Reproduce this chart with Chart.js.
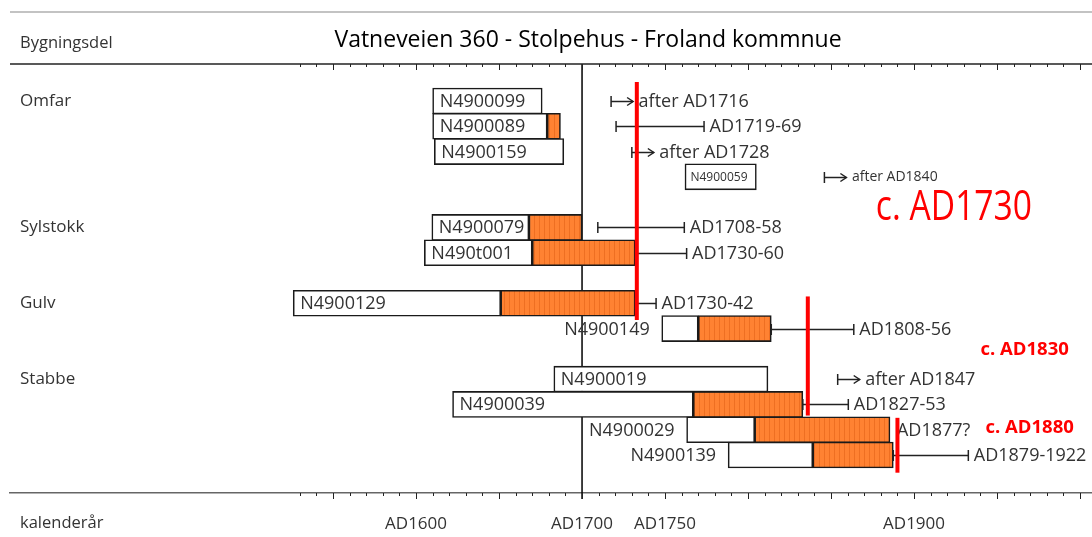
<!DOCTYPE html>
<html>
<head>
<meta charset="utf-8">
<title>Vatneveien 360 - Stolpehus - Froland kommnue</title>
<script src="https://cdn.jsdelivr.net/npm/chart.js@4.4.1/dist/chart.umd.min.js"></script>
<style>
  html, body { margin: 0; padding: 0; background: #fff; }
  #wrap { width: 1092px; height: 537px; }
</style>
</head>
<body>
<div id="wrap"><canvas id="dendroChart"></canvas></div>
<script>
// Building parts and the row they start on
const groups   = ['Omfar', 'Sylstokk', 'Gulv', 'Stabbe'];
const groupRow = [0, 5, 8, 11];

// Samples (years AD)
const samples   = ['N4900099', 'N4900089', 'N4900159', 'N4900059', 'N4900079', 'N490t001', 'N4900129', 'N4900149', 'N4900019', 'N4900039', 'N4900029', 'N4900139'];
const sampleRow = [0, 1, 2, 3, 5, 6, 8, 9, 11, 12, 13, 14];
const firstRing = [1610, 1610, 1611, 1762, 1609.5, 1605, 1526, 1748, 1683, 1622, 1763, 1788];
const sapStart  = [null, 1679, null, null, 1668, 1670, 1651, 1770, null, 1767, 1804, 1839];
const lastRing  = [1676, 1687, 1689, 1805, 1700, 1732, 1732, 1814, 1812, 1833, 1885.5, 1887.5];

// Felling estimate: range from-to, or "after" when there is no end
const fellFrom = [1717.5, 1720.5, 1730, 1846, 1709.5, 1732, 1732, 1814, 1854, 1833, null, 1887.5];
const fellTo   = [null, 1773.5, null, null, 1761.6, 1763, 1744.6, 1863.7, null, 1860.4, null, 1932.7];
const fellText = ['after AD1716', 'AD1719-69', 'after AD1728', 'after AD1840', 'AD1708-58', 'AD1730-60', 'AD1730-42', 'AD1808-56', 'after AD1847', 'AD1827-53', 'AD1877?', 'AD1879-1922'];

// Building phases
const phaseYear = [1733, 1836, 1890];
const phaseText = ['c. AD1730', 'c. AD1830', 'c. AD1880'];

const tickYears = [1600, 1700, 1750, 1900];

const FONT = "'Open Sans', sans-serif";
Chart.defaults.font.family = FONT;
Chart.defaults.color = '#333';

const canvas = document.getElementById('dendroChart');

// orange sapwood fill with thin vertical stripes
function makeHatch() {
    const c = document.createElement('canvas');
    c.width = 5; c.height = 10;
    const g = c.getContext('2d');
    g.fillStyle = '#FF8232';
    g.fillRect(0, 0, 5, 10);
    g.fillStyle = '#EE6F22';
    g.fillRect(4, 0, 1, 10);
    return canvas.getContext('2d').createPattern(c, 'repeat');
}

const heartData = samples.map((s, i) => ({ x: [firstRing[i], sapStart[i] ?? lastRing[i]], y: sampleRow[i] }));
const sapData = samples
    .map((s, i) => sapStart[i] == null ? null : { x: [sapStart[i], lastRing[i]], y: sampleRow[i] })
    .filter(Boolean);

const outsideName = new Set(['N4900149', 'N4900029', 'N4900139']);

function seg(ctx, x0, y0, x1, y1) {
    ctx.beginPath();
    ctx.moveTo(x0, y0);
    ctx.lineTo(x1, y1);
    ctx.stroke();
}

function label(ctx, txt, x, y, size, opts = {}) {
    ctx.font = `${opts.bold ? 'bold ' : ''}${size}px ${FONT}`;
    ctx.fillStyle = opts.color || '#333';
    ctx.textAlign = opts.align || 'left';
    ctx.textBaseline = 'middle';
    if (opts.squeeze) {
        ctx.save();
        ctx.translate(x, y);
        ctx.scale(opts.squeeze, 1);
        ctx.fillText(txt, 0, 0);
        ctx.restore();
    } else {
        ctx.fillText(txt, x, y);
    }
}

const dendroPlugin = {
    id: 'dendro',
    beforeDatasetsDraw(chart) {
        const { ctx, chartArea: a, scales: { x } } = chart;
        ctx.save();
        ctx.strokeStyle = '#000';
        ctx.lineWidth = 1.5;
        const px = x.getPixelForValue(1700);
        seg(ctx, px, a.top, px, a.bottom + 6);
        ctx.restore();
    },
    afterDatasetsDraw(chart) {
        const { ctx, chartArea: a, scales: { x, y } } = chart;
        const X = v => x.getPixelForValue(v);
        const Y = v => y.getPixelForValue(v);
        ctx.save();

        // frame lines and ticks
        ctx.strokeStyle = '#888';
        ctx.lineWidth = 1.2;
        seg(ctx, a.left, 12, a.right, 12);
        ctx.strokeStyle = '#222';
        ctx.lineWidth = 1.5;
        seg(ctx, a.left, a.top, a.right, a.top);
        ctx.lineWidth = 1;
        for (let yr = 1530; yr <= 2000; yr += 10) {
            const px = Math.round(X(yr)) + 0.5;
            const len = yr % 50 ? 3 : 6;
            seg(ctx, px, a.top, px, a.top + len);
            seg(ctx, px, a.bottom, px, a.bottom + len);
        }

        // felling ranges, arrows and texts
        ctx.strokeStyle = '#222';
        ctx.lineWidth = 1.5;
        samples.forEach((s, i) => {
            const cy = Math.round(Y(sampleRow[i])) + 0.5;
            const small = s === 'N4900059';
            let tx;
            if (fellFrom[i] != null && fellTo[i] != null) {
                const x0 = X(fellFrom[i]), x1 = X(fellTo[i]);
                seg(ctx, x0, cy, x1, cy);
                seg(ctx, x0, cy - 5.5, x0, cy + 5.5);
                seg(ctx, x1, cy - 5.5, x1, cy + 5.5);
                tx = x1 + 5.5;
            } else if (fellFrom[i] != null) {
                const x0 = X(fellFrom[i]), x1 = x0 + 22;
                seg(ctx, x0, cy, x1, cy);
                seg(ctx, x0, cy - 5.5, x0, cy + 5.5);
                ctx.beginPath();
                ctx.moveTo(x1 - 6, cy - 4);
                ctx.lineTo(x1, cy);
                ctx.lineTo(x1 - 6, cy + 4);
                ctx.stroke();
                tx = x1 + 5.5;
            } else {
                tx = X(lastRing[i]) + 7;
            }
            label(ctx, fellText[i], tx, cy, small ? 14 : 18);

            // sample name
            if (outsideName.has(s)) {
                label(ctx, s, X(firstRing[i]) - 12, cy, 18, { align: 'right' });
            } else {
                label(ctx, s, X(firstRing[i]) + (small ? 5.5 : 7), cy, small ? 12 : 18);
            }
        });

        // building phases
        const spans = [[-0.75, 8.66], [7.73, 12.44], [12.53, 14.7]];
        ctx.strokeStyle = '#FF0000';
        ctx.lineWidth = 4;
        phaseYear.forEach((yr, i) => seg(ctx, X(yr), Y(spans[i][0]), X(yr), Y(spans[i][1])));
        const notes = [
            { year: 1877, row: 4.22, size: 42, squeeze: 0.8 },
            { year: 1940, row: 9.84, size: 18.5, bold: true },
            { year: 1943, row: 12.92, size: 18.5, bold: true }
        ];
        notes.forEach((n, i) => label(ctx, phaseText[i], X(n.year), Y(n.row), n.size,
            { color: '#FF0000', bold: n.bold, squeeze: n.squeeze }));

        // row and header labels
        groups.forEach((g, i) => label(ctx, g, 20, Y(groupRow[i]), 17));
        label(ctx, 'Bygningsdel', 20, 43, 16.5);
        label(ctx, 'kalenderår', 20, 523, 16.5);
        label(ctx, 'Vatneveien 360 - Stolpehus - Froland kommnue', 588, 40, 23, { align: 'center', color: '#000' });

        ctx.restore();
    }
};

const barStyle = {
    borderColor: '#1a1a1a',
    borderWidth: 1.6,
    borderSkipped: false,
    barThickness: 26,
    grouped: false
};

new Chart(canvas, {
    type: 'bar',
    data: {
        datasets: [
            Object.assign({ label: 'kjerneved', data: heartData, backgroundColor: '#ffffff' }, barStyle),
            Object.assign({ label: 'yteved', data: sapData, backgroundColor: makeHatch() }, barStyle)
        ]
    },
    options: {
        indexAxis: 'y',
        responsive: true,
        maintainAspectRatio: false,
        animation: false,
        layout: { padding: { top: 64, left: 10, right: 0, bottom: 0 } },
        plugins: {
            legend: { display: false },
            tooltip: { enabled: false },
            title: { display: false }
        },
        scales: {
            x: {
                type: 'linear',
                position: 'bottom',
                min: 1355.4,
                max: 2007.2,
                afterBuildTicks: scale => { scale.ticks = tickYears.map(v => ({ value: v })); },
                afterFit: scale => { scale.height = 44; },
                grid: { display: false, drawTicks: false },
                border: { display: true, color: '#666', width: 1.5 },
                ticks: {
                    autoSkip: false,
                    maxRotation: 0,
                    padding: 21,
                    color: '#333',
                    font: { size: 17 },
                    callback: v => 'AD' + v
                }
            },
            y: {
                type: 'linear',
                display: false,
                reverse: true,
                offset: false,
                min: -1.463,
                max: 15.503
            }
        }
    },
    plugins: [dendroPlugin]
});
</script>
</body>
</html>
